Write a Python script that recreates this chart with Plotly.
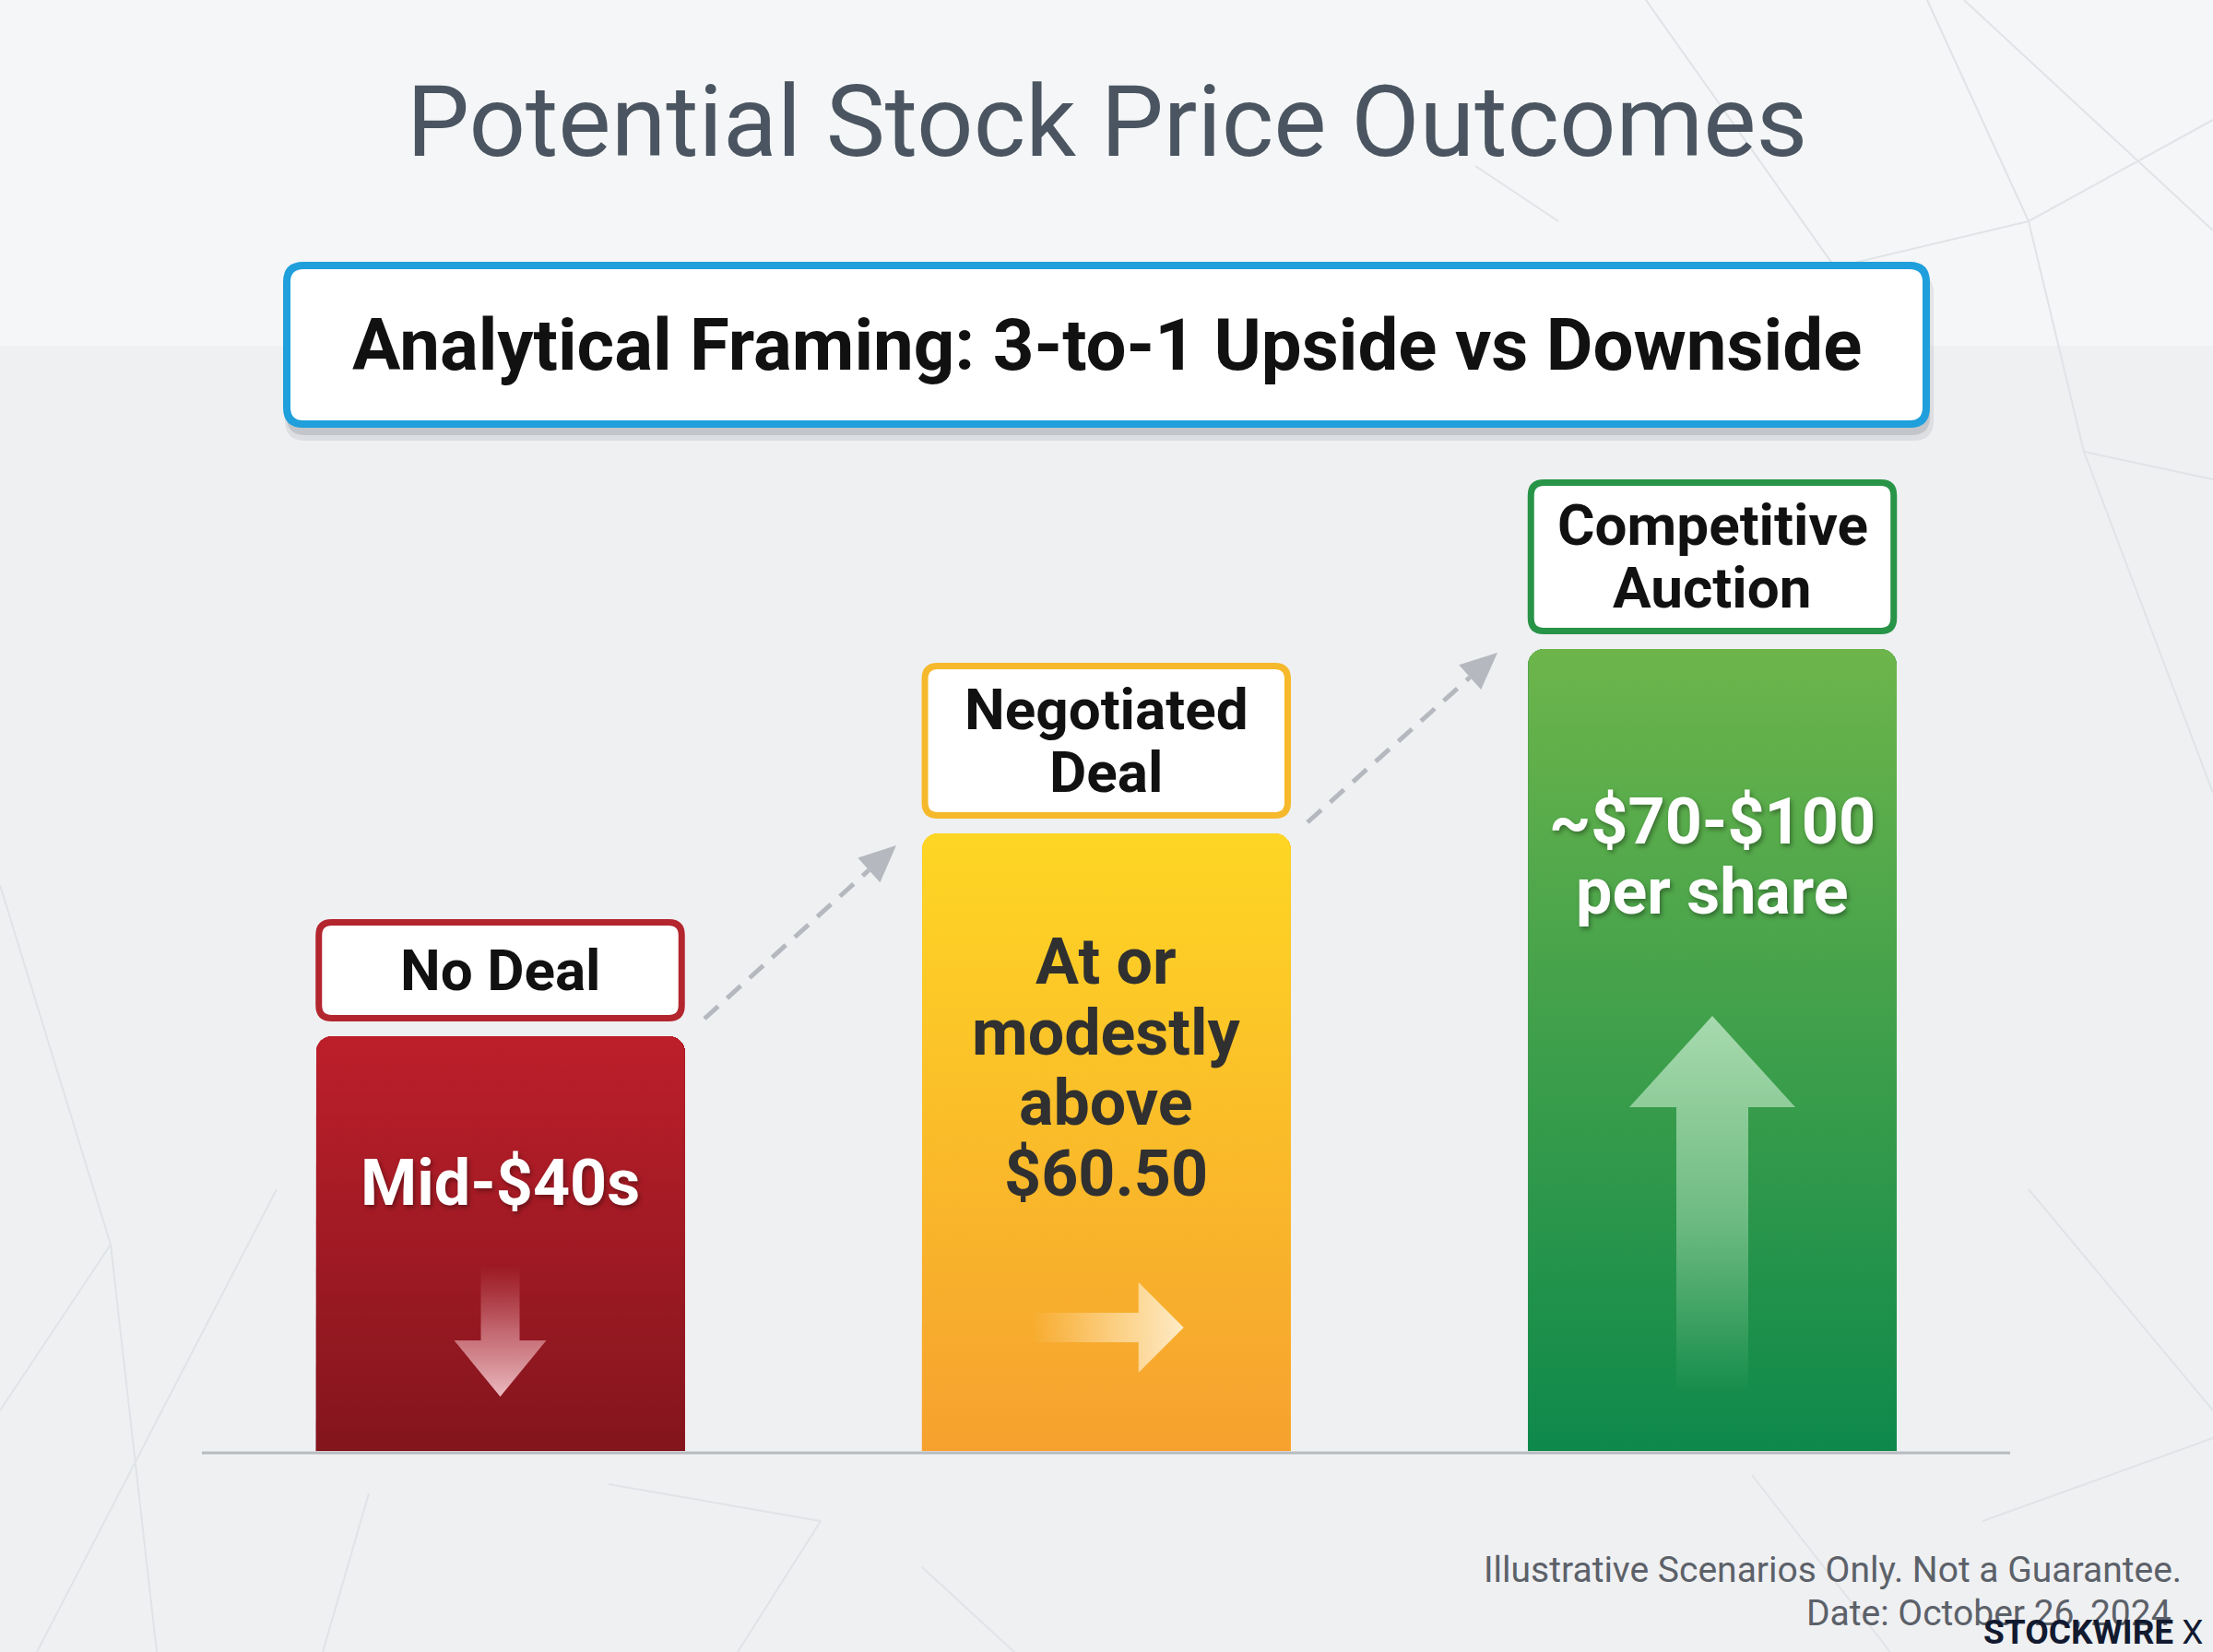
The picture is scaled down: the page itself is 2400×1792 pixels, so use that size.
import numpy as np
import plotly.graph_objects as go

# ---------------- data ----------------
scenarios = ["No Deal", "Negotiated Deal", "Competitive Auction"]
label_lines = [["No Deal"], ["Negotiated", "Deal"], ["Competitive", "Auction"]]
bar_values = [45, 67, 87]  # illustrative relative scenario levels
value_text_lines = [["Mid-$40s"], ["At or", "modestly", "above", "$60.50"], ["~$70-$100", "per share"]]
title_text = "Potential Stock Price Outcomes"
subtitle_text = "Analytical Framing: 3-to-1 Upside vs Downside"
footnote_lines = ["Illustrative Scenarios Only. Not a Guarantee.", "Date: October 26, 2024"]
brand_text = "STOCKWIRE"

# ---------------- styles ----------------
W, H = 2400, 1792
X_UNIT_PX = 657.25      # pixels per category step
Y_UNIT_PX = 10.0        # pixels per value unit
X0_PX = 542.5           # pixel position of first category
BASE_PX = 1574          # pixel position of value 0
x_range = [-X0_PX / X_UNIT_PX, (W - X0_PX) / X_UNIT_PX]
y_range = [-(H - BASE_PX) / Y_UNIT_PX, BASE_PX / Y_UNIT_PX]
BAR_W = 400 / X_UNIT_PX
CORNER = 17

top_colors = ["#bd1f2a", "#fed624", "#6db54b"]
bottom_colors = ["#83151d", "#f6a12f", "#0e894b"]
mid_colors = ["#a11a24", "#fbbd29", "#3a9f4b"]
box_colors = ["#b3262e", "#f5b92b", "#279447"]
value_font_colors = ["#ffffff", "#303030", "#ffffff"]
value_line_offsets = [[159], [139, 216, 292, 369], [187, 263]]
box_heights = [111, 169, 168]
label_line_offsets = [[71.5], [134.5, 66.5], [134.5, 66.5]]

FONT = "Roboto"
BG = "#eff0f2"


def px2paper(x, y):
    return x / W, 1 - y / H


def rr_path(x0, x1, y0, y1, rx, ry):
    # y0 bottom, y1 top (in an upward-positive coordinate system)
    return (f"M{x0+rx},{y1} L{x1-rx},{y1} Q{x1},{y1} {x1},{y1-ry} L{x1},{y0+ry} "
            f"Q{x1},{y0} {x1-rx},{y0} L{x0+rx},{y0} Q{x0},{y0} {x0},{y0+ry} "
            f"L{x0},{y1-ry} Q{x0},{y1} {x0+rx},{y1} Z")


def rr_paper(px0, py0, px1, py1, r):
    x0, y1 = px2paper(px0, py0)
    x1, y0 = px2paper(px1, py1)
    return rr_path(x0, x1, y0, y1, r / W, r / H)


fig = go.Figure()

# bars (solid base)
xs_cat = list(range(len(scenarios)))
fig.add_trace(go.Bar(
    x=xs_cat, y=bar_values, width=BAR_W,
    marker=dict(color=mid_colors, line=dict(width=0), cornerradius=CORNER),
    hoverinfo="skip", showlegend=False,
))

# gradient overlay of each bar (same shape)
t = np.linspace(0, np.pi / 2, 14)
for i, v in enumerate(bar_values):
    rx = CORNER / X_UNIT_PX
    ry = CORNER / Y_UNIT_PX
    x0, x1 = i - BAR_W / 2, i + BAR_W / 2
    lx = x0 + rx - rx * np.cos(t)
    ly = v - ry + ry * np.sin(t)
    rxx = x1 - rx + rx * np.sin(t)
    ryy = v - ry + ry * np.cos(t)
    px_ = np.concatenate([[x0], lx, rxx, [x1, x0]])
    py_ = np.concatenate([[0], ly, ryy, [0, 0]])
    fig.add_trace(go.Scatter(
        x=px_, y=py_, mode="lines", fill="toself", line=dict(width=0),
        fillgradient=dict(type="vertical",
                          colorscale=[[0, bottom_colors[i]], [1, top_colors[i]]]),
        hoverinfo="skip", showlegend=False,
    ))

# decorative arrows inside bars (offsets in px relative to bar centre / top)
arrow_polys = [
    [(-21, 249), (21, 249), (21, 330), (50, 330), (0, 391), (-50, 330), (-21, 330)],
    [(-82, 520), (35, 520), (35, 487), (84, 536), (35, 585), (35, 552), (-82, 552)],
    [(0, 398), (90, 497), (39, 497), (39, 807), (-39, 807), (-39, 497), (-90, 497)],
]
arrow_grad = [
    dict(type="vertical", colorscale=[[0, "rgba(246,205,210,0.9)"], [0.5, "rgba(235,170,178,0.55)"],
                                      [1, "rgba(220,140,150,0.0)"]]),
    dict(type="horizontal", colorscale=[[0, "rgba(255,236,205,0.0)"], [0.6, "rgba(255,236,200,0.6)"],
                                        [1, "rgba(255,242,215,0.9)"]]),
    dict(type="vertical", colorscale=[[0, "rgba(170,220,180,0.0)"], [0.45, "rgba(175,222,185,0.5)"],
                                      [1, "rgba(185,228,192,0.85)"]]),
]
for i, poly in enumerate(arrow_polys):
    v = bar_values[i]
    ax = [i + dx / X_UNIT_PX for dx, dy in poly] + [i + poly[0][0] / X_UNIT_PX]
    ay = [v - dy / Y_UNIT_PX for dx, dy in poly] + [v - poly[0][1] / Y_UNIT_PX]
    fig.add_trace(go.Scatter(
        x=ax, y=ay, mode="lines", fill="toself", line=dict(width=0),
        fillgradient=arrow_grad[i], hoverinfo="skip", showlegend=False,
    ))

shapes = []
# background bands
shapes.append(dict(type="rect", xref="paper", yref="paper", x0=0, x1=1, y0=1 - 375 / H, y1=1,
                   fillcolor="#f5f6f7", line=dict(width=0), layer="below"))
# faint background lines (decorative)
bg_lines = [
    ((1785, 0), (1990, 290)), ((1990, 290), (2200, 240)), ((2200, 240), (2400, 130)),
    ((2090, 0), (2200, 240)), ((2200, 240), (2260, 490)), ((2260, 490), (2400, 520)),
    ((2260, 490), (2400, 860)), ((2130, 0), (2400, 250)), ((1600, 180), (1690, 240)),
    ((0, 960), (120, 1350)), ((120, 1350), (0, 1530)), ((120, 1350), (170, 1792)),
    ((300, 1290), (40, 1792)), ((400, 1620), (350, 1792)), ((660, 1610), (890, 1650)),
    ((890, 1650), (800, 1792)), ((1000, 1700), (1100, 1792)),
    ((2200, 1290), (2400, 1530)), ((2150, 1650), (2400, 1560)), ((1900, 1600), (2050, 1792)),
]
for (ax0, ay0), (ax1, ay1) in bg_lines:
    p0 = px2paper(ax0, ay0)
    p1 = px2paper(ax1, ay1)
    shapes.append(dict(type="line", xref="paper", yref="paper", x0=p0[0], y0=p0[1], x1=p1[0], y1=p1[1],
                       line=dict(color="#e0e3e7", width=2), layer="below"))

# baseline
bl0 = px2paper(219, 1576)
bl1 = px2paper(2180, 1576)
shapes.append(dict(type="line", xref="paper", yref="paper", x0=bl0[0], y0=bl0[1], x1=bl1[0], y1=bl1[1],
                   line=dict(color="#b8bbc0", width=3), layer="below"))

# subtitle box with shadow
shapes.append(dict(type="path", xref="paper", yref="paper", path=rr_paper(309, 296, 2097, 478, 22),
                   fillcolor="rgba(60,70,80,0.10)", line=dict(width=0), layer="below"))
shapes.append(dict(type="path", xref="paper", yref="paper", path=rr_paper(311, 292, 2093, 472, 20),
                   fillcolor="rgba(60,70,80,0.16)", line=dict(width=0), layer="below"))
shapes.append(dict(type="path", xref="paper", yref="paper", path=rr_paper(311, 288, 2089, 460, 18),
                   fillcolor="#ffffff", line=dict(color="#1f9fdb", width=8), layer="below"))

# label boxes above bars (relative to bar top)
half_box = (400.5 - 7) / 2 / X_UNIT_PX
for i, v in enumerate(bar_values):
    yb = v + (16 + 3.5) / Y_UNIT_PX
    yt = yb + (box_heights[i] - 7) / Y_UNIT_PX
    shapes.append(dict(type="path", xref="x", yref="y",
                       path=rr_path(i - half_box, i + half_box, yb, yt, 14 / X_UNIT_PX, 14 / Y_UNIT_PX),
                       fillcolor="#ffffff", line=dict(color=box_colors[i], width=7), layer="below"))

# dashed connector arrows
connectors = [((764, 1105), (972, 917)), ((1418, 892), (1624, 708))]
for (sx, sy), (tx, ty) in connectors:
    d = np.array([tx - sx, ty - sy], dtype=float)
    u = d / np.linalg.norm(d)
    n = np.array([-u[1], u[0]])
    head_len, head_half = 40, 18
    base = np.array([tx, ty]) - head_len * u
    p0 = px2paper(sx, sy)
    p1 = px2paper(*base)
    shapes.append(dict(type="line", xref="paper", yref="paper", x0=p0[0], y0=p0[1], x1=p1[0], y1=p1[1],
                       line=dict(color="#b5b9bf", width=5, dash="20px,13px"), layer="below"))
    c1 = px2paper(*(base + head_half * n))
    c2 = px2paper(*(base - head_half * n))
    tp = px2paper(tx, ty)
    shapes.append(dict(type="path", xref="paper", yref="paper",
                       path=f"M{tp[0]},{tp[1]} L{c1[0]},{c1[1]} L{c2[0]},{c2[1]} Z",
                       fillcolor="#b5b9bf", line=dict(width=0), layer="below"))

annotations = []
# title
tx_, ty_ = px2paper(1200, 132)
annotations.append(dict(text=title_text, xref="paper", yref="paper", x=tx_, y=ty_, showarrow=False,
                        xanchor="center", yanchor="middle",
                        font=dict(family=FONT, size=108, color="#4a5561")))
# subtitle
sx_, sy_ = px2paper(1200, 374)
annotations.append(dict(text=f"<b>{subtitle_text}</b>", xref="paper", yref="paper", x=sx_, y=sy_,
                        showarrow=False, xanchor="center", yanchor="middle",
                        font=dict(family=FONT, size=78, color="#111111")))

# labels and value texts anchored to bars
for i, v in enumerate(bar_values):
    for line, off in zip(label_lines[i], label_line_offsets[i]):
        annotations.append(dict(text=f"<b>{line}</b>", x=i, y=v, xref="x", yref="y", yshift=off,
                                showarrow=False, xanchor="center", yanchor="middle",
                                font=dict(family=FONT, size=62, color="#111111")))
    for line, off in zip(value_text_lines[i], value_line_offsets[i]):
        shadow = "2px 3px 5px rgba(0,0,0,0.35)" if value_font_colors[i] == "#ffffff" else "none"
        annotations.append(dict(text=f"<b>{line}</b>", x=i, y=v, xref="x", yref="y", yshift=-off,
                                showarrow=False, xanchor="center", yanchor="middle",
                                font=dict(family=FONT, size=70, color=value_font_colors[i], shadow=shadow)))

# footnotes
f1 = px2paper(2368, 1703)
annotations.append(dict(text=footnote_lines[0], xref="paper", yref="paper", x=f1[0], y=f1[1],
                        showarrow=False, xanchor="right", yanchor="middle",
                        font=dict(family=FONT, size=39, color="#5c6169")))
f2 = px2paper(2357, 1750)
annotations.append(dict(text=footnote_lines[1], xref="paper", yref="paper", x=f2[0], y=f2[1],
                        showarrow=False, xanchor="right", yanchor="middle",
                        font=dict(family=FONT, size=39, color="#5c6169")))
f3 = px2paper(2392, 1770)
annotations.append(dict(text=f"<b>{brand_text}</b> X", xref="paper", yref="paper", x=f3[0], y=f3[1],
                        showarrow=False, xanchor="right", yanchor="middle",
                        font=dict(family=FONT, size=37, color="#121a30")))

fig.update_layout(
    width=W, height=H, margin=dict(l=0, r=0, t=0, b=0), autosize=False,
    paper_bgcolor=BG, plot_bgcolor="rgba(0,0,0,0)",
    xaxis=dict(range=x_range, visible=False, fixedrange=True),
    yaxis=dict(range=y_range, visible=False, fixedrange=True),
    shapes=shapes, annotations=annotations, showlegend=False,
    bargap=0,
)

fig.write_html("out.html")
